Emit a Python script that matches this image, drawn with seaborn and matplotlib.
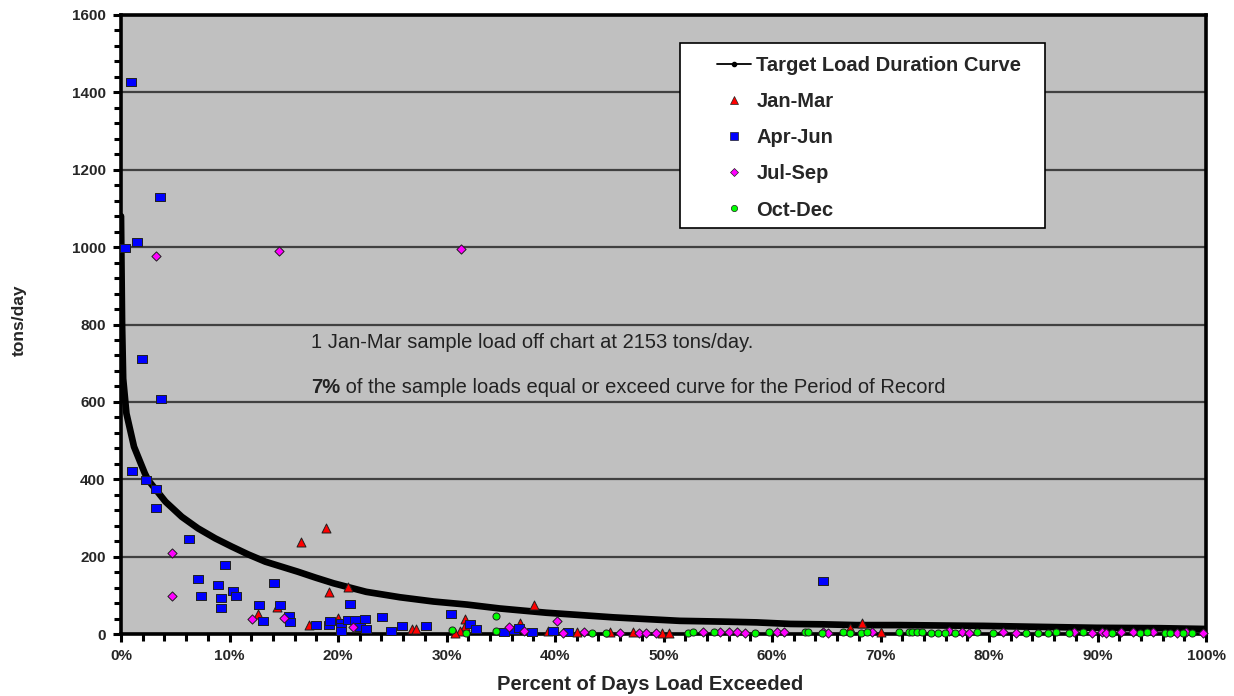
import matplotlib
matplotlib.use("Agg")
import matplotlib.pyplot as plt
from matplotlib.lines import Line2D
from matplotlib.patches import Rectangle
from matplotlib.ticker import MultipleLocator, FuncFormatter
import seaborn as sns

# Target load duration curve (percent of days exceeded vs tons/day)
ldc_pct = [0, 0.1, 0.2, 0.5, 1.2, 2.2, 2.5, 4.1, 5.6, 7.1, 8.7, 10.2, 11.7, 13.3,
           14.8, 16.3, 17.9, 19.6, 22.6, 25.7, 28.8, 31.9, 34.9, 39.2, 45.4, 51.5,
           55.5, 58.6, 61.7, 64.7, 67.8, 71.8, 75.5, 79.5, 83.5, 89.9, 95.8, 100]
ldc_load = [1080, 800, 660, 570, 484, 415, 398, 342, 303, 273, 247, 226, 206, 187,
            174, 161, 146, 131, 109, 95, 84, 76, 66, 55, 43, 34,
            32, 30, 26, 25, 23, 23, 22, 21, 19, 16, 15, 13]

# Sample loads by season
jan_mar_pct = [16.6, 18.9, 19.2, 20.9, 12.6, 14.4, 17.3, 20.0, 26.8, 27.2, 31.7, 31.7,
               31.2, 30.8, 38.1, 36.8, 39.4, 42.0, 45.1, 47.2, 49.9, 50.5, 68.3, 67.2, 70.0]
jan_mar_load = [239, 275, 108, 122, 52, 71, 23, 42, 14, 14, 38, 21,
                8, 3, 75, 28, 8, 6, 4, 4, 3, 3, 29, 16, 6]

apr_jun_pct = [0.9, 0.4, 1.5, 3.6, 1.9, 3.7, 1.0, 2.3, 3.2, 3.2, 6.3, 9.6, 7.1, 8.9,
               7.4, 9.2, 10.3, 10.6, 9.2, 12.7, 14.1, 14.7, 13.1, 15.5, 15.6, 18.0,
               19.2, 19.3, 20.3, 20.3, 20.3, 20.9, 21.1, 21.6, 22.0, 22.5, 22.6, 24.1,
               24.9, 25.9, 28.1, 30.4, 32.2, 32.7, 35.3, 36.2, 36.7, 37.9, 39.8, 41.2, 64.7]
apr_jun_load = [1426, 997, 1013, 1129, 711, 607, 421, 398, 375, 326, 245, 179, 141, 127,
                99, 93, 111, 99, 67, 74, 132, 75, 34, 46, 32, 23,
                23, 34, 29, 19, 8, 36, 77, 37, 17, 40, 14, 43,
                8, 21, 21, 52, 27, 14, 4, 10, 15, 4, 9, 6, 137]

jul_sep_pct = [3.2, 14.6, 31.3, 4.7, 4.7, 12.1, 15.0, 21.4, 40.2, 35.8, 37.1, 40.7, 42.7,
               46.0, 47.7, 48.4, 49.3, 53.6, 55.2, 56.0, 56.8, 57.5, 60.5, 61.1, 64.7,
               65.2, 69.2, 76.3, 77.5, 78.2, 81.3, 82.5, 87.8, 89.5, 90.4, 90.8, 92.2,
               93.3, 95.1, 97.3, 98.2, 99.7]
jul_sep_load = [978, 990, 995, 210, 97, 38, 41, 19, 34, 19, 8, 3, 4,
                3, 3, 3, 3, 5, 4, 6, 5, 3, 6, 4, 6,
                3, 4, 7, 4, 3, 5, 3, 5, 3, 4, 3, 5,
                5, 4, 2, 4, 3]

oct_dec_pct = [34.6, 30.5, 31.8, 34.6, 43.4, 44.7, 52.3, 52.7, 54.7, 58.4, 59.7, 63.0,
               63.3, 64.6, 66.5, 67.2, 68.2, 68.8, 71.7, 72.6, 72.9, 73.4, 73.8, 74.7,
               75.3, 75.9, 76.9, 78.9, 80.4, 83.4, 84.5, 85.4, 86.2, 87.4, 88.7, 91.3,
               93.9, 94.6, 96.2, 96.7, 97.9, 98.7]
oct_dec_load = [47, 10, 2, 8, 3, 3, 3, 4, 4, 2, 5, 4,
                5, 2, 4, 3, 3, 4, 6, 4, 5, 6, 4, 3,
                3, 3, 3, 5, 3, 3, 3, 3, 5, 3, 5, 3,
                3, 5, 3, 3, 3, 3]

series_labels = ["Target Load Duration Curve", "Jan-Mar", "Apr-Jun", "Jul-Sep", "Oct-Dec"]

sns.set_style("ticks")
plt.rcParams["font.family"] = ["Liberation Sans", "DejaVu Sans"]

W, H = 1234, 696
fig = plt.figure(figsize=(W / 100, H / 100), dpi=100, facecolor="white")
ax = fig.add_axes([121 / W, 1 - 634 / H, (1206 - 121) / W, (634 - 15) / H])
ax.set_facecolor("#C0C0C0")

# Load duration curve
sns.lineplot(x=ldc_pct, y=ldc_load, color="black", lw=4.8, sort=False,
             estimator=None, ax=ax, zorder=3, legend=False)

# Wide rectangular marker for the spring samples
rect_marker = [(-1, -0.72), (1, -0.72), (1, 0.72), (-1, 0.72), (-1, -0.72)]

common = dict(ax=ax, edgecolor="#202020", linewidth=0.7, clip_on=False, legend=False, zorder=4)
sns.scatterplot(x=jan_mar_pct, y=jan_mar_load, marker="^", color="#FF0000", s=42, **common)
sns.scatterplot(x=apr_jun_pct, y=apr_jun_load, marker=rect_marker, color="#0000FF", s=60, **common)
sns.scatterplot(x=jul_sep_pct, y=jul_sep_load, marker="D", color="#FF00FF", s=22, **common)
sns.scatterplot(x=oct_dec_pct, y=oct_dec_load, marker="o", color="#00FF00", s=26, **common)

ax.set_xlim(0, 100)
ax.set_ylim(0, 1600)
ax.xaxis.set_major_locator(MultipleLocator(10))
ax.xaxis.set_minor_locator(MultipleLocator(2))
ax.yaxis.set_major_locator(MultipleLocator(200))
ax.yaxis.set_minor_locator(MultipleLocator(40))
ax.xaxis.set_major_formatter(FuncFormatter(lambda v, p: f"{v:.0f}%"))
ax.yaxis.set_major_formatter(FuncFormatter(lambda v, p: f"{v:.0f}"))

ax.yaxis.grid(True, which="major", color="#404040", lw=1.6)
ax.xaxis.grid(False)
ax.set_axisbelow(True)

for side in ["left", "right", "top", "bottom"]:
    ax.spines[side].set_visible(True)
    ax.spines[side].set_color("black")
    ax.spines[side].set_linewidth(2.6)

ax.tick_params(axis="both", which="both", direction="out", color="black", width=2.2)
ax.tick_params(axis="both", which="major", length=6, labelsize=11, pad=5)
ax.tick_params(axis="both", which="minor", length=5)
for lab in ax.get_xticklabels() + ax.get_yticklabels():
    lab.set_fontweight("bold")

ax.set_xlabel("")
ax.set_ylabel("")
fig.text(19 / W, 1 - 320 / H, "tons/day", rotation=90, ha="center", va="center",
         fontsize=12.5, fontweight="bold")
fig.text(650 / W, 1 - 685 / H, "Percent of Days Load Exceeded", ha="center", va="center",
         fontsize=14.5, fontweight="bold")

# Notes inside the plot
ax.text(17.5, 754, "1 Jan-Mar sample load off chart at 2153 tons/day.", ha="left",
        va="center", fontsize=14.5, color="#222222")
t7 = ax.text(17.5, 636, "7%", ha="left", va="center", fontsize=14.5,
             fontweight="bold", color="#222222")
ax.annotate(" of the sample loads equal or exceed curve for the Period of Record",
            xy=(1, 0), xycoords=t7, ha="left", va="bottom", fontsize=14.5, color="#222222")

# Legend with a square white box
box = Rectangle((680 / W, 1 - 228 / H), (1045 - 680) / W, (228 - 43) / H,
                transform=fig.transFigure, facecolor="white", edgecolor="black",
                lw=1.2, zorder=4.5)
ax.add_patch(box)
box.set_clip_on(False)

handles = [
    Line2D([], [], color="black", lw=1.3, marker="o", markersize=3),
    Line2D([], [], ls="none", marker="^", color="#FF0000", mec="#202020", mew=0.5, markersize=6),
    Line2D([], [], ls="none", marker="s", color="#0000FF", mec="#202020", mew=0.5, markersize=5.5),
    Line2D([], [], ls="none", marker="D", color="#FF00FF", mec="#202020", mew=0.5, markersize=4),
    Line2D([], [], ls="none", marker="o", color="#00FF00", mec="#202020", mew=0.5, markersize=4.5),
]
leg = ax.legend(handles, series_labels, loc="upper left", frameon=False,
                bbox_to_anchor=(709 / W, 1 - 48 / H), bbox_transform=fig.transFigure,
                borderaxespad=0, prop={"weight": "bold", "size": 14.5},
                handlelength=1.7, handletextpad=0.25, labelspacing=0.85)
leg.set_zorder(6)

fig.savefig("out.png", dpi=100, facecolor="white")
